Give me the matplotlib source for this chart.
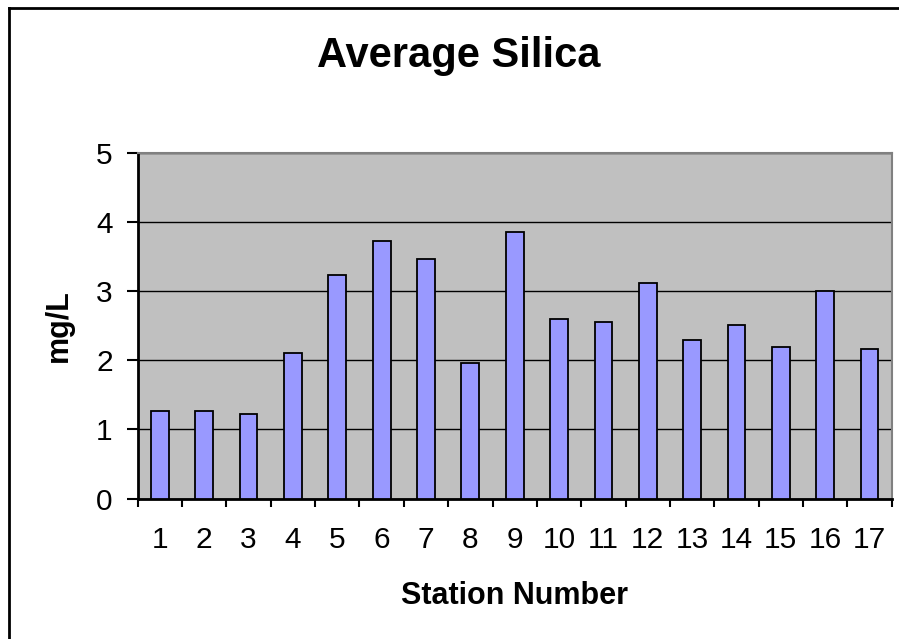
import matplotlib
matplotlib.use("Agg")
import matplotlib.pyplot as plt
from matplotlib.lines import Line2D
import numpy as np

plt.rcParams['font.family'] = ['Liberation Sans', 'DejaVu Sans']

stations = [str(i) for i in range(1, 18)]
silica = [1.26, 1.26, 1.23, 2.10, 3.23, 3.72, 3.46, 1.96, 3.86,
          2.59, 2.56, 3.11, 2.30, 2.51, 2.19, 3.00, 2.16]
yticks = [0, 1, 2, 3, 4, 5]

fig = plt.figure(figsize=(8.99, 6.39), dpi=100)
ax = fig.add_axes([0.1532, 0.2196, 0.8387, 0.5414])
ax.set_facecolor('#C0C0C0')

x = np.arange(len(stations))
ax.bar(x, silica, width=0.4, color='#9999FF', edgecolor='black', linewidth=1.3, zorder=3)

ax.set_xlim(-0.5, len(stations) - 0.5)
ax.set_ylim(0, 5)
ax.set_yticks(yticks)
ax.set_yticklabels([str(v) for v in yticks], fontsize=21.5)
ax.yaxis.grid(True, color='black', linewidth=1.0, zorder=1)
ax.set_axisbelow(True)

ax.set_xticks(x)
ax.set_xticklabels(stations, fontsize=21.5)
ax.set_xticks(np.arange(-0.5, len(stations)), minor=True)
ax.tick_params(axis='x', which='major', length=0, pad=20)
ax.tick_params(axis='x', which='minor', length=6, width=1.5, direction='out')
ax.tick_params(axis='y', length=8, width=1.5, direction='out', pad=10)

for s in ['left', 'bottom']:
    ax.spines[s].set_color('black')
    ax.spines[s].set_linewidth(2)
for s in ['top', 'right']:
    ax.spines[s].set_color('#808080')
    ax.spines[s].set_linewidth(1.5)

ax.set_xlabel('Station Number', fontsize=22, fontweight='bold', labelpad=19)
ax.set_ylabel('mg/L', fontsize=22, fontweight='bold', labelpad=16)
fig.text(459/899, 1 - 67.3/639, 'Average Silica', fontsize=30, fontweight='bold',
         ha='center', va='baseline')

fig.add_artist(Line2D([8.5/899, 8.5/899], [0, 1 - 7.5/639], transform=fig.transFigure,
                      color='black', linewidth=2))
fig.add_artist(Line2D([8.5/899, 1], [1 - 7.5/639, 1 - 7.5/639], transform=fig.transFigure,
                      color='black', linewidth=2))

fig.savefig('out.png', dpi=100)
